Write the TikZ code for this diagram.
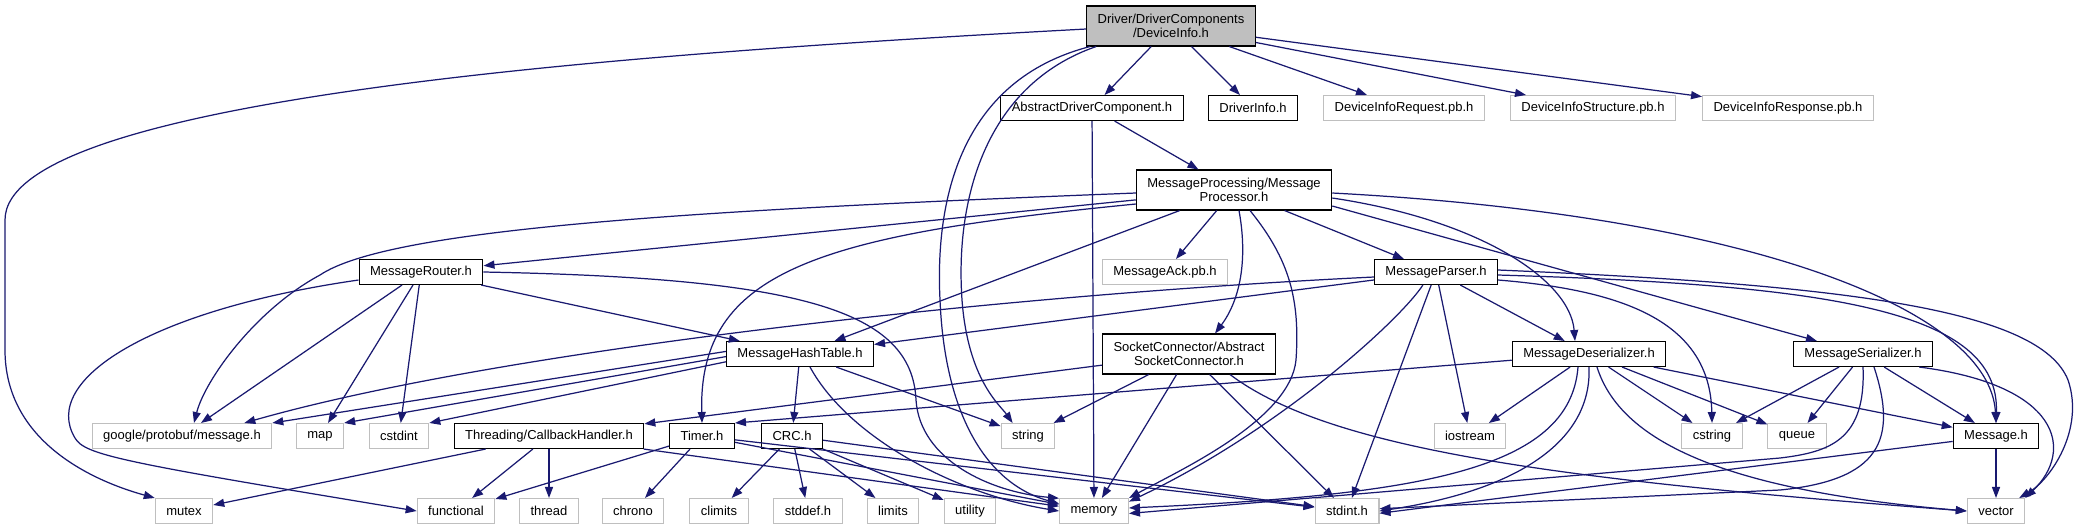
\documentclass[tikz,border=0pt]{standalone}
\usepackage{fontspec}
\newfontfamily\dotfont{Liberation Sans}
\usepackage{tikz}
\usetikzlibrary{arrows.meta,calc}
\definecolor{edgeblue}{HTML}{191970}
\definecolor{extgray}{HTML}{BFBFBF}

\begin{document}
\begin{tikzpicture}[x=0.02cm,y=-0.02cm,
  every node/.style={rectangle,font=\dotfont\fontsize{7.4}{8.1}\selectfont,inner xsep=0.22cm,inner ysep=0pt,minimum height=0.5cm,line width=0.6pt},
  hdr/.style={draw=black},
  ext/.style={draw=extgray},
  root/.style={draw=black,fill=extgray,align=center,minimum height=0.8cm},
  twoline/.style={draw=black,align=center,minimum height=0.8cm},
  dep/.style={edgeblue,line width=0.7pt,-{Triangle[length=0.22cm,width=0.16cm]}}]
\useasboundingbox (0,0) rectangle (2081,529);
\fill[white] (0,0) rectangle (2081,529);

\node (devinfo) [root] at (1171,26) {Driver/DriverComponents\\/DeviceInfo.h};
\node (absdrv) [hdr] at (1092,108) {AbstractDriverComponent.h};
\node (drvinfo) [hdr] at (1253,108) {DriverInfo.h};
\node (direq) [ext] at (1404,108) {DeviceInfoRequest.pb.h};
\node (distruct) [ext] at (1593,108) {DeviceInfoStructure.pb.h};
\node (diresp) [ext] at (1788,108) {DeviceInfoResponse.pb.h};
\node (msgproc) [twoline] at (1234,190) {MessageProcessing/Message\\Processor.h};
\node (router) [hdr] at (421,272) {MessageRouter.h};
\node (ack) [ext] at (1165,272) {MessageAck.pb.h};
\node (parser) [hdr] at (1436,272) {MessageParser.h};
\node (hashtab) [hdr] at (800,354) {MessageHashTable.h};
\node (sockconn) [twoline] at (1189,354) {SocketConnector/Abstract\\SocketConnector.h};
\node (deser) [hdr] at (1589,354) {MessageDeserializer.h};
\node (ser) [hdr] at (1863,354) {MessageSerializer.h};
\node (protobuf) [ext] at (182,436) {google/protobuf/message.h};
\node (map) [ext] at (320,436) {map};
\node (cstdint) [ext] at (399,436) {cstdint};
\node (cbhandler) [hdr] at (549,436) {Threading/CallbackHandler.h};
\node (timer) [hdr] at (702,436) {Timer.h};
\node (crc) [hdr] at (792,436) {CRC.h};
\node (string) [ext] at (1028,436) {string};
\node (iostream) [ext] at (1470,436) {iostream};
\node (cstring) [ext] at (1712,436) {cstring};
\node (queue) [ext] at (1797,436) {queue};
\node (message) [hdr] at (1996,436) {Message.h};
\node (mutex) [ext] at (184,511) {mutex};
\node (functional) [ext] at (456,511) {functional};
\node (thread) [ext] at (549,511) {thread};
\node (chrono) [ext] at (633,511) {chrono};
\node (climits) [ext] at (719,511) {climits};
\node (stddef) [ext] at (808,511) {stddef.h};
\node (limits) [ext] at (893,511) {limits};
\node (utility) [ext] at (970,511) {utility};
\node (memory) [ext] at (1094,511) {memory};
\node (stdint) [ext] at (1347,511) {stdint.h};
\node (vector) [ext] at (1996,511) {vector};

\foreach \from/\to in {devinfo/absdrv,devinfo/drvinfo,devinfo/direq,devinfo/distruct,devinfo/diresp,
  absdrv/memory,absdrv/msgproc,
  msgproc/router,msgproc/hashtab,msgproc/ack,msgproc/parser,
  router/protobuf,router/map,router/cstdint,router/hashtab,
  hashtab.178/protobuf.north east,hashtab.182/map.north east,hashtab.186/cstdint.north east,hashtab/crc,hashtab/string,
  sockconn/cbhandler,sockconn/string,sockconn/memory,sockconn/stdint,
  parser/hashtab,parser/stdint,parser/iostream,parser/deser,
  deser/iostream,deser/cstring,deser/queue,deser/message,deser/timer.north east,
  ser/cstring,ser/queue,ser/message,
  message/vector,message/stdint.-4,
  cbhandler/mutex,cbhandler/functional,cbhandler/thread,cbhandler/memory,
  timer/chrono,timer/functional,timer/memory,timer/stdint,
  crc/climits,crc/stddef,crc/limits,crc/utility,crc/stdint}
  \draw[dep] (\from) -- (\to);

\draw[dep] ($(devinfo.west)+(0,3)$) .. controls (600,55) and (5,100) .. (5,220) -- (5,350) .. controls (5,440) and (90,480) .. (mutex.north west);
\draw[dep] ($(devinfo.south west)+(4,0)$) .. controls (960,80) and (935,200) .. (940,300) .. controls (945,420) and (990,485) .. (memory.168);
\draw[dep] ($(devinfo.south west)+(10,0)$) .. controls (985,85) and (955,200) .. (962,300) .. controls (968,380) and (1000,405) .. ($(string.north west)+(12,0)$);
\draw[dep] ($(msgproc.west)+(0,3)$) .. controls (700,210) and (390,228) .. (320,275) .. controls (255,310) and (205,380) .. ($(protobuf.north)+(12,0)$);
\draw[dep] ($(msgproc.west)+(0,14)$) .. controls (820,235) and (698,270) .. (timer.north);
\draw[dep] ($(msgproc.south)+(5,0)$) .. controls (1248,260) and (1240,300) .. ($(sockconn.north)+(26,0)$);
\draw[dep] ($(msgproc.south)+(16,0)$) .. controls (1290,260) and (1300,300) .. (1296,360) .. controls (1290,420) and (1180,470) .. (memory.north east);
\draw[dep] ($(msgproc.east)+(0,8)$) .. controls (1480,220) and (1570,280) .. ($(deser.north)+(-14,0)$);
\draw[dep] ($(msgproc.east)+(0,3)$) .. controls (1750,215) and (1990,310) .. (message.north);
\draw[dep] ($(msgproc.east)+(0,16)$) -- ($(ser.north west)+(24,0)$);
\draw[dep] ($(router.west)+(0,8)$) .. controls (150,310) and (40,380) .. (75,438) .. controls (85,455) and (120,462) .. (functional.west);
\draw[dep] (router.east) .. controls (800,278) and (912,310) .. (916,400) .. controls (920,460) and (990,492) .. (memory.160);
\draw[dep] ($(hashtab.south)+(10,0)$) .. controls (850,440) and (960,495) .. (memory.west);
\draw[dep] ($(sockconn.south east)+(-46,0)$) .. controls (1330,450) and (1560,480) .. (vector.west);
\draw[dep] ($(parser.west)+(0,5)$) .. controls (1000,295) and (500,350) .. ($(protobuf.north east)+(-28,0)$);
\draw[dep] ($(parser.south west)+(49,0)$) .. controls (1400,320) and (1280,430) .. (memory.15);
\draw[dep] ($(parser.east)+(0,8)$) .. controls (1620,290) and (1710,320) .. (cstring.north);
\draw[dep] ($(parser.east)+(0,3)$) .. controls (1830,285) and (2000,310) .. (message.north);
\draw[dep] ($(parser.east)+(0,-2)$) .. controls (1850,285) and (2040,310) .. (2068,380) .. controls (2085,430) and (2050,480) .. ($(vector.north east)+(-6,0)$);
\draw[dep] ($(deser.south)+(-11,0)$) .. controls (1570,470) and (1420,495) .. (memory.5);
\draw[dep] (deser.south) .. controls (1592,440) and (1520,490) .. (stdint.east);
\draw[dep] ($(deser.south)+(8,0)$) .. controls (1620,440) and (1720,490) .. (vector.west);
\draw[dep] (ser.south) .. controls (1866,440) and (1830,452) .. (1780,458) -- (memory.-4);
\draw[dep] ($(ser.south)+(11,0)$) .. controls (1898,440) and (1880,480) .. (1780,490) -- (stdint.4);
\draw[dep] ($(ser.south east)+(-14,0)$) .. controls (2060,385) and (2075,450) .. (vector.north east);
\end{tikzpicture}
\end{document}
